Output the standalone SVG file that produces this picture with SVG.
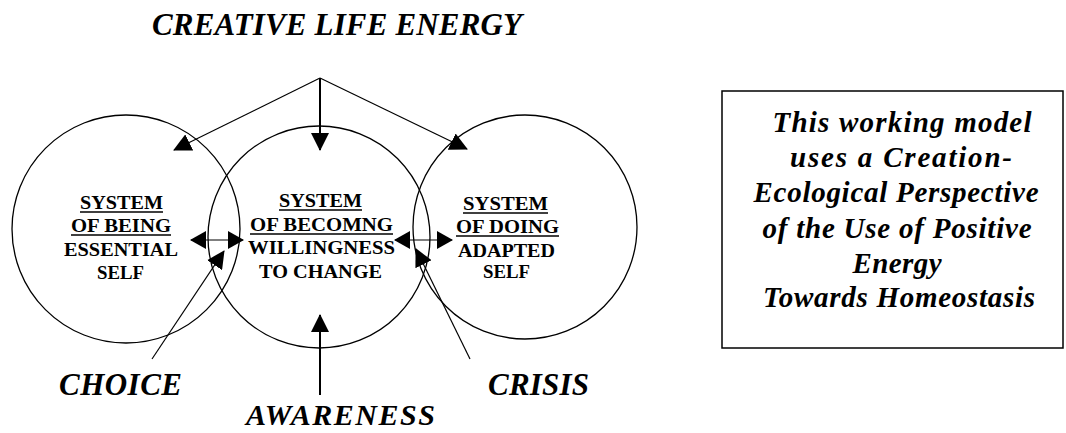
<svg xmlns="http://www.w3.org/2000/svg" width="1066" height="433" viewBox="0 0 1066 433">
<style>
.lbl{font-family:"Liberation Serif","Times New Roman",serif;font-style:italic;font-weight:bold;font-size:31px;fill:#000}
.box{font-family:"Liberation Serif","Times New Roman",serif;font-style:italic;font-weight:bold;font-size:29px;fill:#000;text-anchor:middle}
.in{font-family:"Liberation Serif","Times New Roman",serif;font-weight:bold;font-size:19px;fill:#000}
.circ{fill:none;stroke:#000;stroke-width:1.3}
.ln{fill:none;stroke:#000;stroke-width:1.2}
.lnb{fill:none;stroke:#000;stroke-width:2}
.ul{stroke:#000;stroke-width:1.6}
</style>
<defs>
<marker id="ah" markerUnits="userSpaceOnUse" markerWidth="18" markerHeight="18" viewBox="0 0 18 18" refX="17" refY="9" orient="auto-start-reverse">
<path d="M0,0 L18,9 L0,18 z" fill="#000"/>
</marker>
<marker id="ah2" markerUnits="userSpaceOnUse" markerWidth="16" markerHeight="18" viewBox="0 0 16 18" refX="15" refY="9" orient="auto-start-reverse">
<path d="M0,0 L16,9 L0,18 z" fill="#000"/>
</marker>
</defs>
<rect width="1066" height="433" fill="#fff"/>

<g id="title"><text class="lbl" x="152" y="35" textLength="370">CREATIVE LIFE ENERGY</text></g>

<g id="being">
<circle class="circ" cx="126" cy="229" r="114"/>
<text class="in" x="80" y="209" textLength="83" lengthAdjust="spacingAndGlyphs">SYSTEM</text>
<line class="ul" x1="80" y1="212" x2="163" y2="212"/>
<text class="in" x="71" y="232" textLength="100" lengthAdjust="spacingAndGlyphs">OF BEING</text>
<line class="ul" x1="71" y1="235" x2="171" y2="235"/>
<text class="in" x="64" y="256" textLength="114" lengthAdjust="spacingAndGlyphs">ESSENTIAL</text>
<text class="in" x="97" y="279" textLength="47" lengthAdjust="spacingAndGlyphs">SELF</text>
</g>

<g id="becoming">
<circle class="circ" cx="319" cy="237" r="111"/>
<text class="in" x="279" y="207" textLength="83" lengthAdjust="spacingAndGlyphs">SYSTEM</text>
<line class="ul" x1="279" y1="210" x2="362" y2="210"/>
<text class="in" x="250" y="231" textLength="143" lengthAdjust="spacingAndGlyphs">OF BECOMNG</text>
<line class="ul" x1="250" y1="234" x2="393" y2="234"/>
<text class="in" x="248" y="254" textLength="147" lengthAdjust="spacingAndGlyphs">WILLINGNESS</text>
<text class="in" x="259" y="278" textLength="123" lengthAdjust="spacingAndGlyphs">TO CHANGE</text>
</g>

<g id="doing">
<circle class="circ" cx="525" cy="227" r="112"/>
<text class="in" x="463" y="210" textLength="85" lengthAdjust="spacingAndGlyphs">SYSTEM</text>
<line class="ul" x1="463" y1="213" x2="548" y2="213"/>
<text class="in" x="456" y="233" textLength="103" lengthAdjust="spacingAndGlyphs">OF DOING</text>
<line class="ul" x1="456" y1="236" x2="559" y2="236"/>
<text class="in" x="458" y="257" textLength="97" lengthAdjust="spacingAndGlyphs">ADAPTED</text>
<text class="in" x="483" y="278" textLength="47" lengthAdjust="spacingAndGlyphs">SELF</text>
</g>

<g id="labels">
<text class="lbl" x="59" y="395" textLength="123">CHOICE</text>
<text class="lbl" x="246" y="425" textLength="189" style="font-size:30px">AWARENESS</text>
<text class="lbl" x="488" y="395" textLength="101">CRISIS</text>
</g>

<g id="note">
<rect x="722" y="91" width="341" height="257" fill="none" stroke="#000" stroke-width="1.5"/>
<text class="box" x="902" y="132" textLength="259">This working model</text>
<text class="box" x="901" y="167" textLength="222">uses a Creation-</text>
<text class="box" x="896" y="202" textLength="285">Ecological Perspective</text>
<text class="box" x="897" y="238" textLength="269">of the Use of Positive</text>
<text class="box" x="897" y="273" textLength="89">Energy</text>
<text class="box" x="899" y="307" textLength="272">Towards Homeostasis</text>
</g>

<g id="connectors">
<line class="lnb" x1="320" y1="78" x2="320" y2="150" marker-end="url(#ah)"/>
<line class="ln" x1="320" y1="78" x2="174" y2="150" marker-end="url(#ah)"/>
<line class="ln" x1="320" y1="78" x2="467" y2="149" marker-end="url(#ah)"/>
<line class="ln" x1="152" y1="359" x2="224" y2="251" marker-end="url(#ah)"/>
<line class="ln" x1="470" y1="359" x2="416" y2="249" marker-end="url(#ah)"/>
<line class="lnb" x1="320" y1="395" x2="320" y2="315" marker-end="url(#ah)"/>
<line class="ln" x1="191" y1="240" x2="243" y2="240" marker-start="url(#ah2)" marker-end="url(#ah2)"/>
<line class="ln" x1="395" y1="240" x2="452" y2="240" marker-start="url(#ah2)" marker-end="url(#ah2)"/>
</g>
</svg>
